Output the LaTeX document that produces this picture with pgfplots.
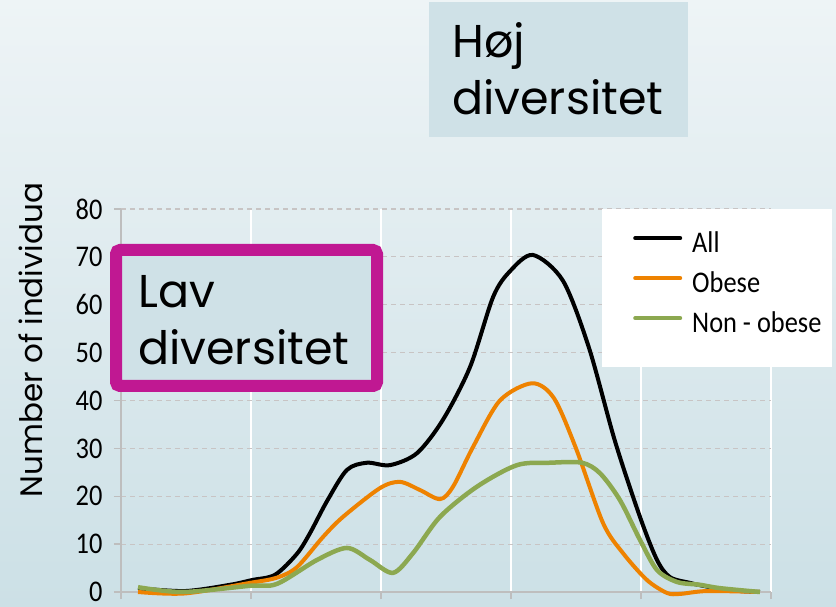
\documentclass[border=0pt]{standalone}
\usepackage{pgfplots}
\pgfplotsset{compat=1.18}
\usepackage{fontspec}
\setmainfont{Carlito}[FakeStretch=0.88]
\newfontfamily\gothic{Poppins}
\definecolor{bgtop}{RGB}{238,244,246}
\definecolor{bgbot}{RGB}{204,224,230}
\definecolor{boxfill}{RGB}{207,225,231}
\definecolor{lavmag}{RGB}{192,24,146}
\definecolor{serorange}{RGB}{238,130,0}
\definecolor{sergreen}{RGB}{140,168,80}
\definecolor{gridgray}{RGB}{200,196,196}
\definecolor{axisgray}{RGB}{190,190,190}
\begin{document}
\begin{tikzpicture}
\useasboundingbox (0pt,0pt) rectangle (836pt,606pt);
\shade[top color=bgtop, bottom color=bgbot] (0pt,0pt) rectangle (836pt,606pt);
% Hoej diversitet box
\fill[boxfill] (429pt,469pt) rectangle (688pt,604pt);
\node[anchor=base west, inner sep=0pt, font=\gothic\fontsize{46}{55}\selectfont] at (452pt,548pt) {Høj};
\node[anchor=base west, inner sep=0pt, font=\gothic\fontsize{46}{55}\selectfont] at (452pt,491pt) {diversitet};
\begin{axis}[
  at={(121pt,14pt)}, anchor=south west,
  scale only axis, width=650pt, height=383pt,
  xmin=0, xmax=5, ymin=0, ymax=80,
  xtick={0,1,2,3,4,5}, xticklabels={},
  ytick={0,10,...,80},
  axis lines=left,
  axis line style={-},
  x axis line style={draw=axisgray, line width=2.5pt},
  y axis line style={draw=axisgray, line width=1.5pt},
  tick align=outside, major tick length=7pt,
  tick style={axisgray, line width=1.5pt},
  xmajorgrids, ymajorgrids,
  x grid style={white, line width=1.5pt},
  y grid style={gridgray, line width=1.2pt, dash pattern=on 5pt off 4pt},
  clip=false,
  /pgf/number format/assume math mode=true,
  yticklabel style={font=\fontsize{30}{36}\selectfont, text=black, xshift=-8pt},
  ylabel={Number of individua},
  every axis y label/.style={at={(rel axis cs:-0.1385,0.658)}, rotate=90, anchor=center,
    font=\gothic\fontsize{31}{37}\selectfont, text=black},
  legend style={at={(0.7877,0.9608)}, anchor=north west, draw=none, fill=none,
    inner sep=0pt, row sep=12pt, column sep=10pt,
    font=\fontsize{30}{36}\selectfont,
    nodes={inner sep=0pt, text height=28pt, text depth=0pt}},
  legend cell align=left,
  legend image code/.code={\draw[#1, line width=4pt, line cap=round] (0pt,0pt) -- (45pt,0pt);},
]
\fill[white] (rel axis cs:0.74,0.5875) rectangle (rel axis cs:1.0938,1.0);
\addplot[black, line width=4pt, smooth, tension=0.5] coordinates {
(0.131,0.8)(0.492,0.2)(0.838,1.5)(1.008,2.5)(1.185,3.6)(1.354,8)(1.454,12.3)(1.585,19)(1.738,25.5)(1.892,27)(2.069,26.5)(2.277,29)(2.477,36)(2.685,47)(2.862,61.6)(2.992,67)(3.169,70.4)(3.4,65)(3.6,51)(3.8,31.5)(3.992,15.7)(4.123,6.7)(4.223,3.1)(4.377,1.9)(4.477,1.3)(4.662,0.4)(4.915,0)
};
\addlegendentry{All}
\addplot[serorange, line width=4pt, smooth, tension=0.5] coordinates {
(0.131,0)(0.492,-0.3)(0.992,1.9)(1.2,3)(1.354,5.2)(1.554,11.5)(1.708,15.7)(1.992,21.7)(2.146,23)(2.3,21.3)(2.454,19.4)(2.554,22)(2.708,30.3)(2.915,40)(3.162,43.6)(3.33,40.5)(3.5,30)(3.708,14.4)(3.862,8.1)(4.046,2.5)(4.2,-0.2)(4.3,-0.4)(4.508,0.2)(4.915,0)
};
\addlegendentry{Obese}
\addplot[sergreen, line width=4.5pt, smooth, tension=0.5] coordinates {
(0.131,1)(0.477,0)(0.992,1.3)(1.2,1.7)(1.508,6.7)(1.738,9.2)(1.915,6.7)(2.092,4)(2.246,8.1)(2.454,15.7)(2.738,22)(3.046,26.5)(3.3,27)(3.546,27)(3.685,24.8)(3.838,19.2)(3.992,10.9)(4.123,4.6)(4.277,2.1)(4.454,1.5)(4.608,0.8)(4.915,0)
};
\addlegendentry{Non - obese}
\end{axis}
% Lav diversitet box
\draw[lavmag, line width=12pt, rounded corners=4pt, fill=boxfill] (116pt,220pt) rectangle (377pt,356pt);
\node[anchor=base west, inner sep=0pt, font=\gothic\fontsize{46}{55}\selectfont] at (138pt,298pt) {Lav};
\node[anchor=base west, inner sep=0pt, font=\gothic\fontsize{46}{55}\selectfont] at (138pt,241pt) {diversitet};
\end{tikzpicture}
\end{document}
